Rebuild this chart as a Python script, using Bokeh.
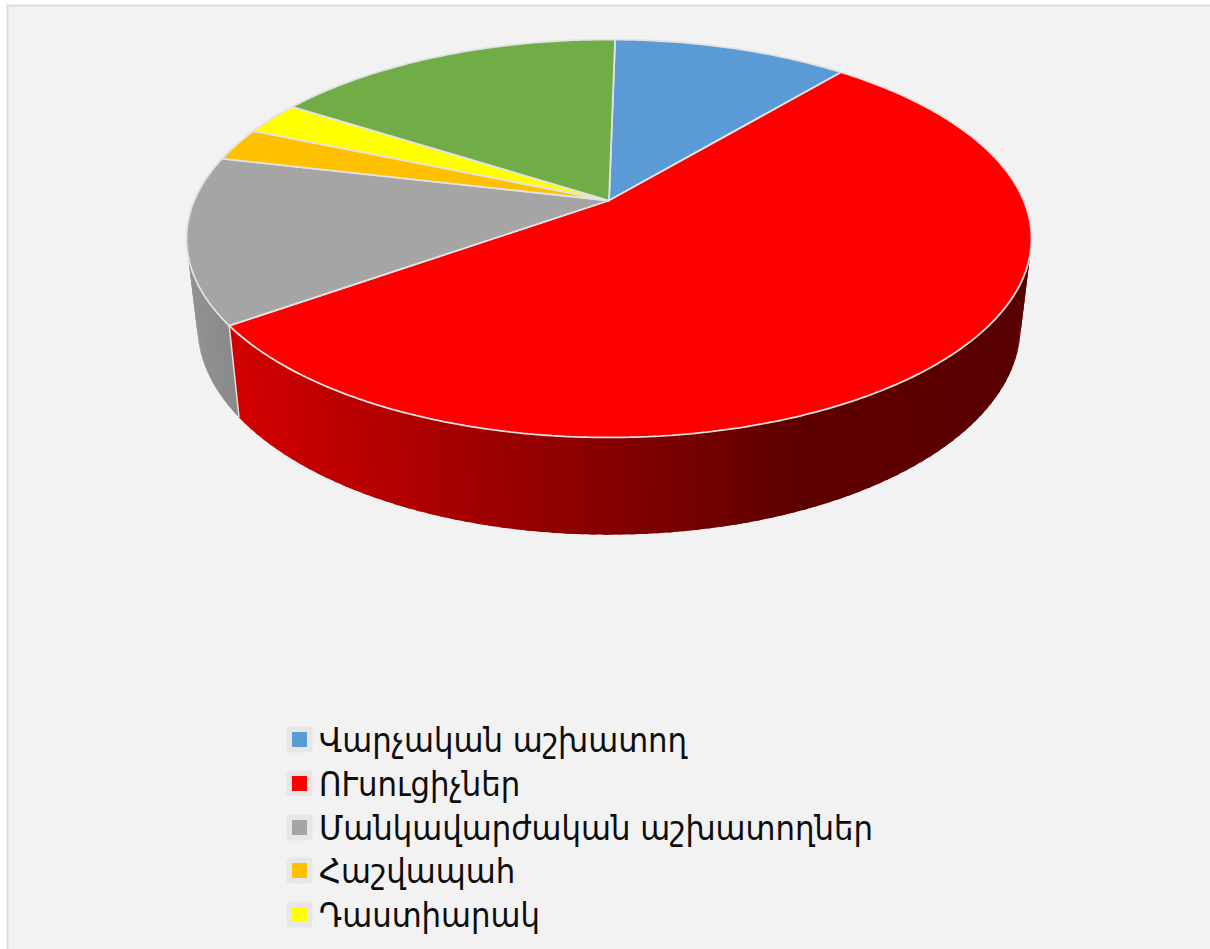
import math
from bokeh.plotting import figure
from bokeh.models import Range1d, Span
from bokeh.core.properties import value
from bokeh.embed import file_html
from bokeh.resources import INLINE

# data
categories = ["Վարչական աշխատող", "ՈՒսուցիչներ", "Մանկավարժական աշխատողներ", "Հաշվապահ", "Դաստիարակ"]
counts = [4, 20, 5, 1, 1, 6]
colors = ["#5B9BD5", "#FF0000", "#A5A5A5", "#FFC000", "#FFFF00", "#70AD47"]

# style: perspective of the 3D pie
START = 1.0
K = 0.191
CX = 608.5
TOP = dict(y0=200.0, R=414.7, S=191.7)
BOT = dict(y0=285.7, R=404.0, S=201.0)
RED_STOPS = [(240, 208), (400, 176), (500, 155), (615, 132), (700, 115), (790, 94), (900, 94), (1030, 88)]
GRAY_STOPS = [(186, 146), (240, 136)]


def project(phi, plane):
    a = math.radians(phi)
    X, Y = math.sin(a), math.cos(a)
    w = 1 + K * Y
    return CX + plane["R"] * X / w, plane["y0"] - plane["S"] * Y / w


def arc(a0, a1, plane, n=None):
    n = n or max(2, int(abs(a1 - a0) * 1.5))
    return [project(a0 + (a1 - a0) * i / n, plane) for i in range(n + 1)]


def interp(stops, x):
    if x <= stops[0][0]:
        return stops[0][1]
    for (x0, v0), (x1, v1) in zip(stops, stops[1:]):
        if x <= x1:
            return v0 + (v1 - v0) * (x - x0) / (x1 - x0)
    return stops[-1][1]


total = sum(counts)
edges = [START]
for c in counts:
    edges.append(edges[-1] + c / total * 360)

p = figure(width=1204, height=945, x_range=Range1d(6, 1210), y_range=Range1d(949, 4),
           output_backend="svg", toolbar_location=None, min_border=0,
           styles={"position": "absolute", "left": "6px", "top": "4px"})
p.axis.visible = False
p.grid.visible = False
p.outline_line_color = None
p.background_fill_color = "#F2F2F2"
p.border_fill_color = "#F2F2F2"

p.add_layout(Span(location=7, dimension="height", line_color="#D9D9D9", line_width=2))
p.add_layout(Span(location=5, dimension="width", line_color="#D9D9D9", line_width=2))

# side wall: strips shaded along the visible rim; each strip runs a little
# under the next one so that no seam shows
xs, ys, fc = [], [], []
red_end = edges[2]
phi = 75.0
STEP = 1.5
OVERLAP = 0.6
while phi < 290:
    nxt = min(phi + STEP, 290)
    if phi < red_end < nxt:
        nxt = red_end
    end = nxt if nxt == red_end else min(nxt + OVERLAP, 290)
    t = arc(phi, end, TOP, 4)
    b = arc(phi, end, BOT, 4)
    xs.append([q[0] for q in t] + [q[0] for q in reversed(b)])
    ys.append([q[1] for q in t] + [q[1] for q in reversed(b)])
    mid = (t[0][0] + t[-1][0]) / 2
    if phi < red_end:
        fc.append("#%02x0000" % int(interp(RED_STOPS, mid)))
    else:
        g = int(interp(GRAY_STOPS, mid))
        fc.append("#%02x%02x%02x" % (g, g, g))
    phi = nxt
p.patches(xs, ys, fill_color=fc, line_color=None)

e_t, e_b = project(red_end, TOP), project(red_end, BOT)
p.line([e_t[0], e_b[0]], [e_t[1], e_b[1]], line_color="#E0E0E0", line_width=1.5)

# top face
apex = (CX, TOP["y0"])
for i, col in enumerate(colors):
    pts = [apex] + arc(edges[i], edges[i + 1], TOP)
    p.patch([q[0] for q in pts], [q[1] for q in pts], fill_color=col,
            line_color="#E2E2E2", line_width=1.8)

# legend
leg_x = 299
leg_ys = [739, 783, 827, 870, 914]
p.quad(left=[leg_x - 13] * 5, right=[leg_x + 13] * 5, top=[y - 13 for y in leg_ys], bottom=[y + 13 for y in leg_ys],
       fill_color="#E7E7E7", line_color=None, border_radius=3)
p.rect([leg_x] * 5, leg_ys, width=15, height=15, fill_color=colors[:5], line_color=None)
p.text([318.5] * 5, leg_ys, text=categories, text_font=value("DejaVu Sans Condensed"), text_font_size="34.2px",
       text_color="#0D0D0D", text_baseline="middle", text_align="left")

open("out.html", "w").write(file_html(p, INLINE))
